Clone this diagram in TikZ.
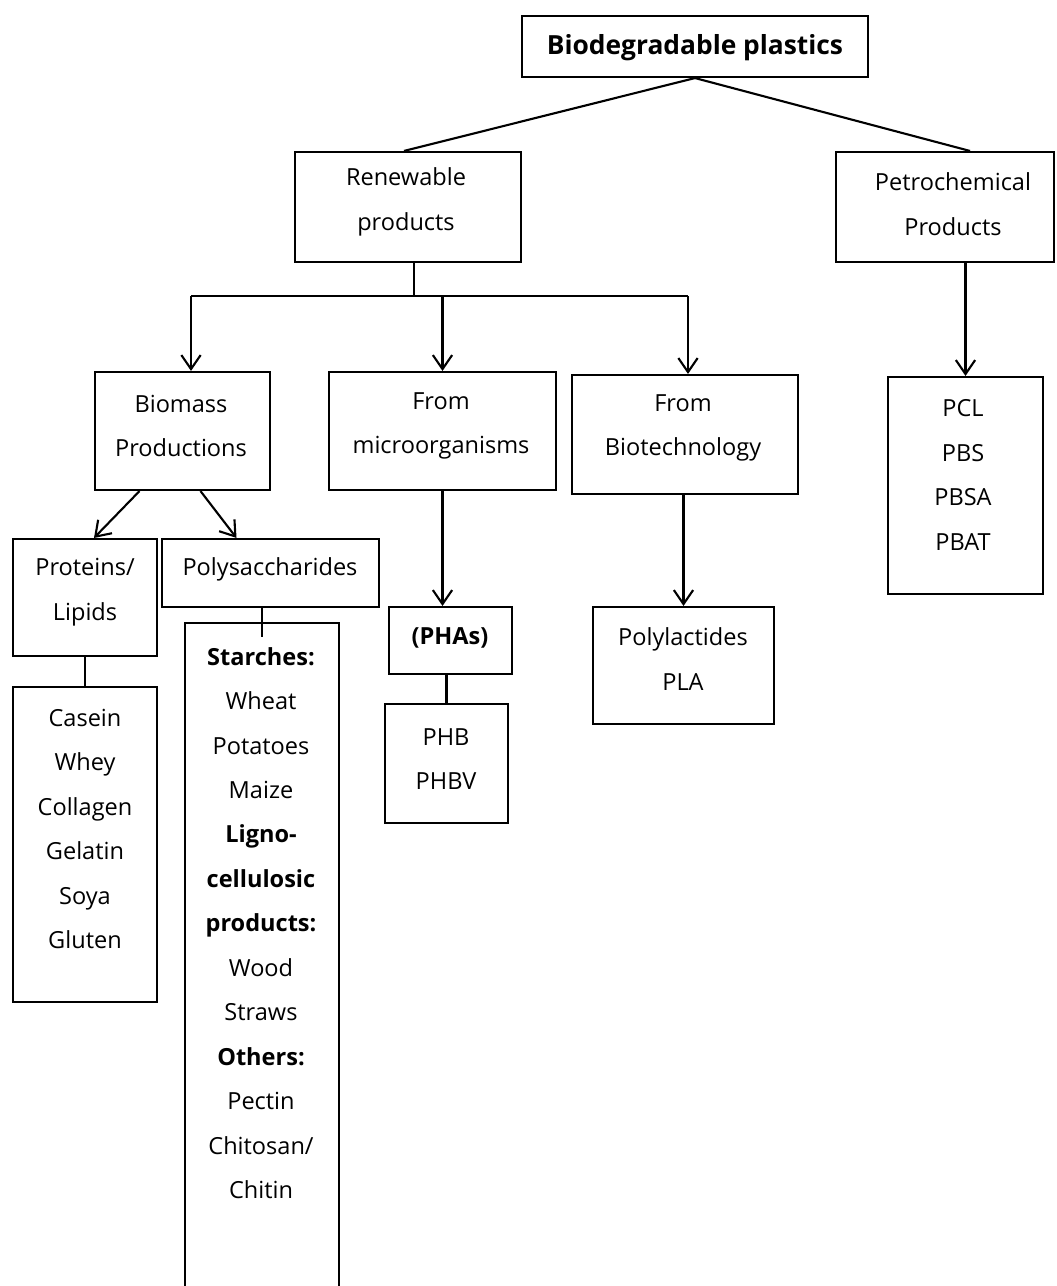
\documentclass[tikz,border=0pt]{standalone}
\usepackage{fontspec}
\setmainfont{Open Sans}
\usetikzlibrary{arrows.meta,fit,calc}
\begin{document}
\begin{tikzpicture}[x=0.02cm,y=-0.02cm,
  box/.style={draw, line width=1.2pt, inner sep=0pt},
  openbox/.style={inner sep=0pt},
  txt/.style={align=center, inner sep=0pt, font=\fontsize{13.4}{25.3}\selectfont},
  bold/.style={align=center, inner sep=0pt, font=\fontsize{15}{25.3}\selectfont\bfseries},
  link/.style={line width=1.2pt},
  arr/.style={line width=1.2pt, -{Straight Barb[length=8pt,width=11pt,line width=1.2pt]}}]
\useasboundingbox (0,0) rectangle (1057,1286);

% boxes
\node[box, fit={(522,16) (868,77)}] (top) {};
\node[box, fit={(295,152) (521,262)}] (ren) {};
\node[box, fit={(836,152) (1054,262)}] (pet) {};
\node[box, fit={(95,372) (270,490)}] (bio) {};
\node[box, fit={(329,372) (556,490)}] (mic) {};
\node[box, fit={(572,375) (798,494)}] (btc) {};
\node[box, fit={(888,377) (1043,594)}] (pcl) {};
\node[box, fit={(13,539) (157,656)}] (prot) {};
\node[box, fit={(162,539) (379,607)}] (poly) {};
\node[openbox, fit={(185,623) (339,1286)}] (st) {};
\draw[link] (st.south west) -- (st.north west) -- (st.north east) -- (st.south east);
\node[box, fit={(13,687) (157,1002)}] (cas) {};
\node[box, fit={(389,607) (512,674)}] (phas) {};
\node[box, fit={(385,704) (508,823)}] (phb) {};
\node[box, fit={(593,607) (774,724)}] (pla) {};

% texts
\node[bold] (t-top) at (695,48) {Biodegradable plastics};
\node[txt] (t-ren) at (406,202) {Renewable\\products};
\node[txt] (t-pet) at (953,204) {Petrochemical\\Products};
\node[txt] (t-bio) at (181,426) {Biomass\\Productions};
\node[txt] (t-mic) at (441,426) {From\\microorganisms};
\node[txt] (t-btc) at (683,428) {From\\Biotechnology};
\node[txt] (t-pcl) at (963,475) {PCL\\PBS\\PBSA\\PBAT};
\node[txt] (t-prot) at (85,592) {Proteins/\\Lipids};
\node[txt] (t-poly) at (270,569) {Polysaccharides};
\node[txt] (t-st) at (261,923) {\textbf{Starches:}\\Wheat\\Potatoes\\Maize\\\textbf{Ligno-}\\\textbf{cellulosic}\\\textbf{products:}\\Wood\\Straws\\\textbf{Others:}\\Pectin\\Chitosan/\\Chitin};
\node[txt] (t-cas) at (85,829) {Casein\\Whey\\Collagen\\Gelatin\\Soya\\Gluten};
\node[txt, font=\fontsize{13.4}{25.3}\selectfont\bfseries] (t-phas) at (450,638) {(PHAs)};
\node[txt] (t-phb) at (446,759) {PHB\\PHBV};
\node[txt] (t-pla) at (683,659) {Polylactides\\PLA};

% connectors
\coordinate (hub) at (414,296);
\coordinate (hl) at (191,296);
\coordinate (hr) at (688,296);
\draw[link] (top.south) -- ($(ren.north)+(-4,0)$);
\draw[link] (top.south) -- ($(pet.north)+(25,0)$);
\draw[link] (ren.south -| hub) -- (hub);
\draw[link] (hl) -- (hr);
\draw[arr] (hl) -- (hl |- bio.north);
\draw[arr] (mic.north |- hub) -- (mic.north);
\draw[arr] (hr) -- (hr |- btc.north);
\draw[arr] (pcl.north |- pet.south) -- (pcl.north);
\draw[arr] ($(bio.south)+(-43,0)$) -- ($(prot.north)+(9,0)$);
\draw[arr] ($(bio.south)+(18,0)$) -- ($(poly.north)+(-34,0)$);
\draw[link] (prot.south) -- (cas.north);
\draw[link] (st.north |- poly.south) -- ($(st.north)+(0,14)$);
\draw[arr] (mic.south) -- (mic.south |- phas.north);
\draw[link] (phb.north |- phas.south) -- (phb.north);
\draw[arr] (pla.north |- btc.south) -- (pla.north);
\end{tikzpicture}
\end{document}
